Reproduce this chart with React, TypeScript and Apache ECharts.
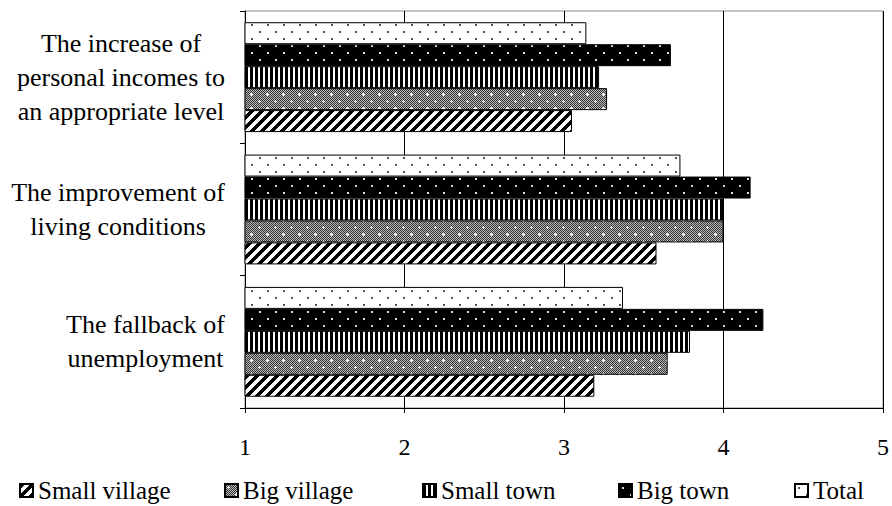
import React, { useEffect, useRef } from "react";
import * as echarts from "echarts";

const categories = [
  "The fallback of\nunemployment",
  "The improvement of\nliving conditions",
  "The increase of\npersonal incomes to\nan appropriate level",
];
const seriesNames = ["Small village", "Big village", "Small town", "Big town", "Total"];
const smallVillage = [3.19, 3.58, 3.05];
const bigVillage = [3.65, 4.0, 3.27];
const smallTown = [3.79, 4.0, 3.22];
const bigTown = [4.25, 4.17, 3.67];
const total = [3.37, 3.73, 3.14];
const xTicks = [1, 2, 3, 4, 5];

const FONT = '"Liberation Serif", "Times New Roman", serif';

function makeTile(w: number, h: number, draw: (ctx: CanvasRenderingContext2D) => void) {
  const c = document.createElement("canvas");
  c.width = w;
  c.height = h;
  const ctx = c.getContext("2d")!;
  draw(ctx);
  return { image: c, repeat: "repeat", imageWidth: w, imageHeight: h } as any;
}

function buildPatterns() {
  const diag = makeTile(10, 10, (ctx) => {
    ctx.fillStyle = "#fff";
    ctx.fillRect(0, 0, 10, 10);
    ctx.fillStyle = "#000";
    for (let y = 0; y < 10; y++)
      for (let x = 0; x < 10; x++) if ((x + y) % 10 < 5) ctx.fillRect(x, y, 1, 1);
  });
  const checker = makeTile(16, 14, (ctx) => {
    for (let y = 0; y < 14; y++)
      for (let x = 0; x < 16; x++) {
        ctx.fillStyle = (x + y) % 2 === 0 ? "#333" : "#bbb";
        ctx.fillRect(x, y, 1, 1);
      }
    ctx.fillStyle = "#fff";
    const plus = (px: number, py: number) => {
      ctx.fillRect(px - 1, py, 3, 1);
      ctx.fillRect(px, py - 1, 1, 3);
    };
    plus(3, 3);
    plus(11, 10);
  });
  const vert = makeTile(5, 4, (ctx) => {
    ctx.fillStyle = "#fff";
    ctx.fillRect(0, 0, 5, 4);
    ctx.fillStyle = "#000";
    ctx.fillRect(0, 0, 3, 4);
  });
  const blackDots = makeTile(16, 14, (ctx) => {
    ctx.fillStyle = "#000";
    ctx.fillRect(0, 0, 16, 14);
    ctx.fillStyle = "#ddd";
    ctx.fillRect(3, 3, 2, 2);
    ctx.fillRect(11, 10, 2, 2);
  });
  const whiteDots = makeTile(16, 14, (ctx) => {
    ctx.fillStyle = "#fff";
    ctx.fillRect(0, 0, 16, 14);
    ctx.fillStyle = "#555";
    ctx.fillRect(3, 3, 2, 2);
    ctx.fillRect(11, 10, 2, 2);
  });
  return [diag, checker, vert, blackDots, whiteDots];
}

export default function App() {
  const ref = useRef<HTMLDivElement>(null);
  useEffect(() => {
    if (!ref.current) return;
    document.body.style.margin = "0";
    const chart = echarts.init(ref.current, null, { renderer: "svg" });
    const patterns = buildPatterns();
    const values = [smallVillage, bigVillage, smallTown, bigTown, total];

    const catFontSize = 26;
    const measure = document.createElement("canvas").getContext("2d")!;
    measure.font = `${catFontSize}px ${FONT}`;
    const rich: any = {};
    categories.forEach((c, i) => {
      const w = Math.max(...c.split("\n").map((l) => measure.measureText(l).width));
      rich["c" + i] = {
        width: Math.ceil(w),
        align: "center",
        fontSize: catFontSize,
        fontFamily: FONT,
        color: "#000",
        lineHeight: 34,
      };
    });

    const legendLeft = [19, 224, 422, 618, 794];

    // Series are added top-to-bottom within each group (Total on top)
    const order = [4, 3, 2, 1, 0];

    chart.setOption({
      animation: false,
      backgroundColor: "#fff",
      grid: {
        left: 245,
        right: 7,
        top: 11,
        bottom: 98,
        show: true,
        borderColor: "#888",
        borderWidth: 1,
      },
      legend: seriesNames.map((n, i) => ({
        data: [n],
        left: legendLeft[i],
        top: 478,
        icon: "rect",
        itemWidth: 13,
        itemHeight: 13,
        itemGap: 0,
        padding: 0,
        selectedMode: false,
        textStyle: { fontFamily: FONT, fontSize: 25, color: "#000" },
      })),
      xAxis: {
        type: "value",
        min: 1,
        max: 5,
        interval: 1,
        data: xTicks,
        axisLine: { show: true, lineStyle: { color: "#000", width: 1 } },
        axisTick: { show: true, length: 5, lineStyle: { color: "#000" } },
        axisLabel: {
          fontFamily: FONT,
          fontSize: 24,
          color: "#000",
          margin: 27,
        },
        splitLine: { show: true, lineStyle: { color: "#000", width: 1 } },
      },
      yAxis: {
        type: "category",
        data: categories,
        axisLine: { show: true, lineStyle: { color: "#000", width: 1 } },
        axisTick: { show: true, length: 5, lineStyle: { color: "#000" } },
        axisLabel: {
          margin: 20,
          align: "right",
          formatter: (v: string, i: number) =>
            v
              .split("\n")
              .map((l) => `{c${i}|${l}}`)
              .join("\n"),
          rich,
        },
        splitLine: { show: false },
      },
      series: order.map((i) => ({
        name: seriesNames[i],
        type: "bar",
        data: values[i],
        barGap: "0%",
        barCategoryGap: "17%",
        itemStyle: {
          color: patterns[i],
          borderColor: "#000",
          borderWidth: 1,
        },
      })),
    });
    return () => chart.dispose();
  }, []);
  return <div ref={ref} style={{ width: 892, height: 506 }} />;
}
